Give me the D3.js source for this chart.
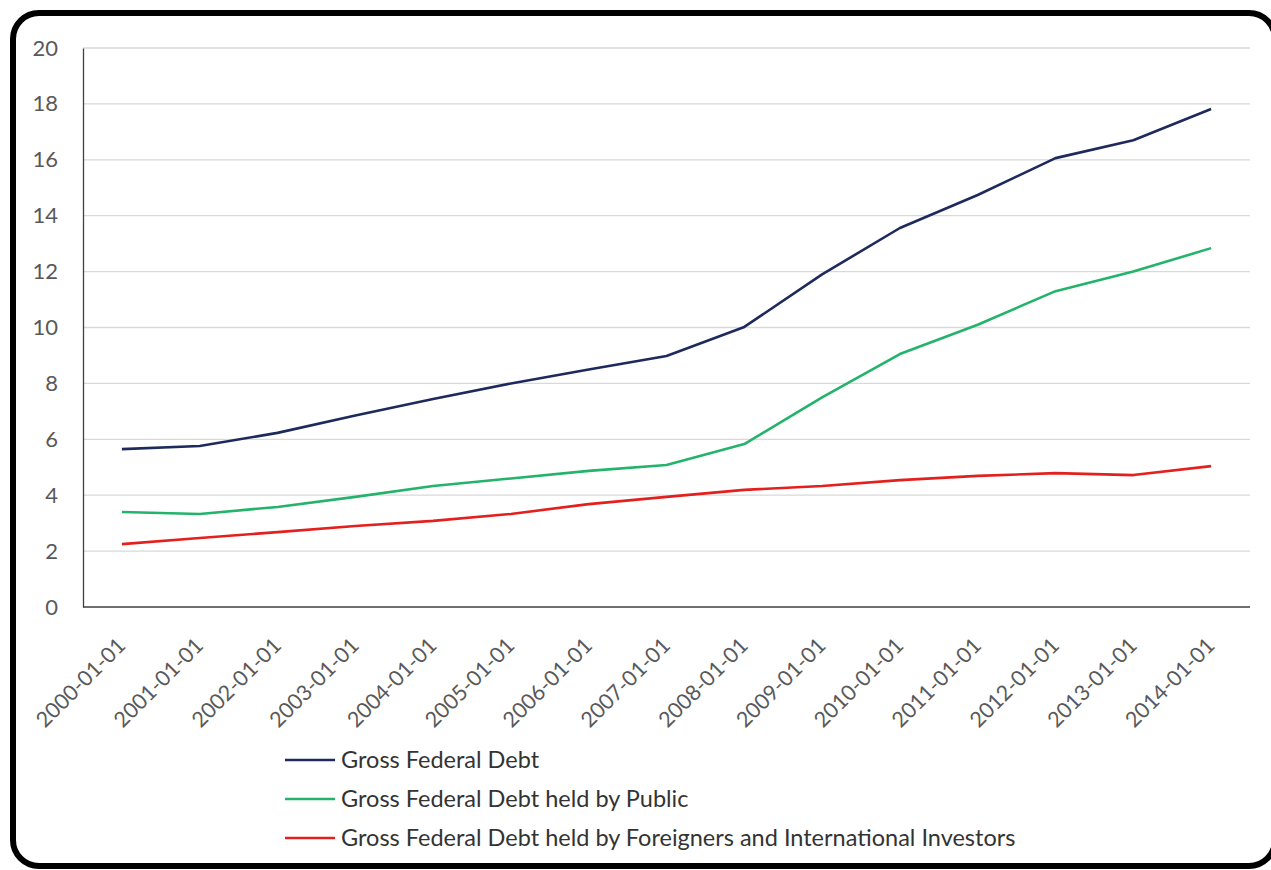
<!DOCTYPE html>
<html><head><meta charset="utf-8">
<script src="https://cdn.jsdelivr.net/npm/d3@7"></script>
<style>body{margin:0;background:#fff}svg{display:block}</style>
</head><body>
<svg id="c" width="1271" height="870"></svg>
<script>
const categories = ["2000-01-01","2001-01-01","2002-01-01","2003-01-01","2004-01-01","2005-01-01","2006-01-01","2007-01-01","2008-01-01","2009-01-01","2010-01-01","2011-01-01","2012-01-01","2013-01-01","2014-01-01"];
const grossDebt = [5.65,5.76,6.23,6.85,7.44,8.0,8.5,8.98,10.02,11.9,13.56,14.74,16.06,16.7,17.82];
const publicDebt = [3.40,3.33,3.58,3.94,4.33,4.6,4.87,5.08,5.83,7.5,9.05,10.1,11.3,12.0,12.84];
const foreignDebt = [2.25,2.47,2.68,2.9,3.08,3.33,3.68,3.94,4.19,4.33,4.54,4.69,4.79,4.72,5.04];
const seriesNames = ["Gross Federal Debt","Gross Federal Debt held by Public","Gross Federal Debt held by Foreigners and International Investors"];
const seriesColors = ["#1f2a5c","#23b36a","#e3201d"];
const yTicks = [0,2,4,6,8,10,12,14,16,18,20];

const svg = d3.select("#c");
const font = "Lato, 'Open Sans', sans-serif";
// frame
svg.append("rect").attr("x",13).attr("y",13).attr("width",1262).attr("height",853)
  .attr("rx",26).attr("fill","#fff").attr("stroke","#000").attr("stroke-width",6);

const L=83,R=1250,T=48,B=607;
const x = d3.scaleBand().domain(categories).range([L,R]);
const y = d3.scaleLinear().domain([0,20]).range([B,T]);

// gridlines
svg.append("g").selectAll("line").data(yTicks.filter(d=>d>0)).join("line")
  .attr("x1",L).attr("x2",R).attr("y1",d=>y(d)).attr("y2",d=>y(d))
  .attr("stroke","#d9d9d9").attr("stroke-width",1.3);

// y axis
const ya = svg.append("g").attr("transform",`translate(${L},0)`)
  .call(d3.axisLeft(y).tickValues(yTicks).tickSize(0).tickPadding(25));
ya.select(".domain").attr("stroke","#404040").attr("stroke-width",1.3);
ya.selectAll("text").attr("font-family",font).attr("font-size",22).attr("fill","#595959");

// x axis
const xa = svg.append("g").attr("transform",`translate(0,${B})`)
  .call(d3.axisBottom(x).tickSize(0).tickPadding(0));
xa.select(".domain").attr("stroke","#404040").attr("stroke-width",1.5).attr("d",`M${L},0H${R}`);
xa.selectAll("text").attr("font-family",font).attr("font-size",21.5).attr("fill","#595959")
  .attr("text-anchor","end").attr("dy",0)
  .attr("transform","translate(5,40) rotate(-45)");

// lines
const data=[grossDebt,publicDebt,foreignDebt];
const line = d3.line().x((d,i)=>x(categories[i])+x.bandwidth()/2).y(d=>y(d));
svg.append("g").selectAll("path").data(data).join("path")
  .attr("d",line).attr("fill","none").attr("stroke",(d,i)=>seriesColors[i])
  .attr("stroke-width",2.6).attr("stroke-linejoin","round");

// legend
const lg = svg.append("g").selectAll("g").data(seriesNames).join("g")
  .attr("transform",(d,i)=>`translate(285,${760+i*39})`);
lg.append("line").attr("x1",0).attr("x2",50).attr("y1",0).attr("y2",0)
  .attr("stroke",(d,i)=>seriesColors[i]).attr("stroke-width",2.6);
lg.append("text").attr("x",56).attr("y",0).attr("dy","0.35em").text(d=>d)
  .attr("font-family",font).attr("font-size",23.5).attr("fill","#333");
</script>
</body></html>
